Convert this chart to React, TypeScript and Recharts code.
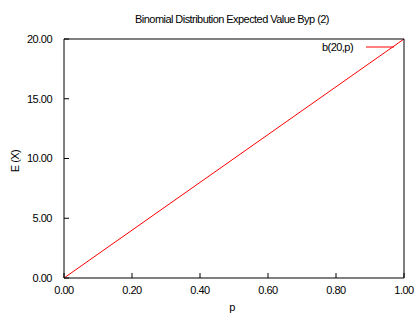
import { LineChart, Line, XAxis, YAxis } from "recharts"

const pValues = [0, 0.2, 0.4, 0.6, 0.8, 1.0]
const expectedValues = [0, 4, 8, 12, 16, 20]
const xTicks = [0, 0.2, 0.4, 0.6, 0.8, 1.0]
const yTicks = [0, 5, 10, 15, 20]

const data = pValues.map((p, i) => ({ p, ex: expectedValues[i] }))

const font = "'Liberation Sans', Arial, sans-serif"
const tickStyle = { fontSize: 11, fill: "#000", fontFamily: font, letterSpacing: -0.5 }
const textStyle = { fontFamily: font, fontSize: 11, letterSpacing: -0.55, color: "#000" }

export default function App() {
  return (
    <div style={{ position: "absolute", left: 0, top: 0, width: 420, height: 320, background: "#fff" }}>
      <div style={{ ...textStyle, position: "absolute", left: 0, width: 420, top: 13, textAlign: "center", paddingLeft: 44, boxSizing: "border-box" }}>
        Binomial Distribution Expected Value Byp (2)
      </div>
      <LineChart width={420} height={320} data={data} margin={{ top: 38, right: 15, left: 0, bottom: 0 }}>
        <XAxis
          dataKey="p"
          type="number"
          domain={[0, 1]}
          ticks={xTicks}
          tickFormatter={(v: number) => v.toFixed(2)}
          height={42}
          tickSize={-5}
          tickMargin={13}
          stroke="#000"
          tick={tickStyle}
        />
        <XAxis xAxisId="top" orientation="top" dataKey="p" type="number" domain={[0, 1]} ticks={xTicks} height={1} tickSize={-5} tick={false} stroke="#000" />
        <YAxis
          type="number"
          domain={[0, 20]}
          ticks={yTicks}
          tickFormatter={(v: number) => v.toFixed(2)}
          width={64}
          tickSize={-5}
          tickMargin={17}
          stroke="#000"
          tick={tickStyle}
        />
        <YAxis yAxisId="right" orientation="right" type="number" domain={[0, 20]} ticks={yTicks} width={1} tickSize={-5} tick={false} stroke="#000" />
        <Line dataKey="ex" stroke="#ff0000" strokeWidth={1} dot={false} isAnimationActive={false} />
      </LineChart>
      <div style={{ ...textStyle, position: "absolute", left: 322, top: 41, display: "flex", alignItems: "center" }}>
        <span>b(20,p)</span>
        <svg width={38} height={8} style={{ marginLeft: 4 }}>
          <line x1={9} x2={37} y1={4} y2={4} stroke="#ff0000" strokeWidth={1} />
        </svg>
      </div>
      <div style={{ ...textStyle, position: "absolute", left: 0, width: 420, top: 301, textAlign: "center", paddingLeft: 44, boxSizing: "border-box" }}>
        p
      </div>
      <div style={{ ...textStyle, position: "absolute", left: 15, top: 161, transform: "translate(-50%, -50%) rotate(-90deg)", whiteSpace: "nowrap" }}>
        E (X)
      </div>
    </div>
  )
}
